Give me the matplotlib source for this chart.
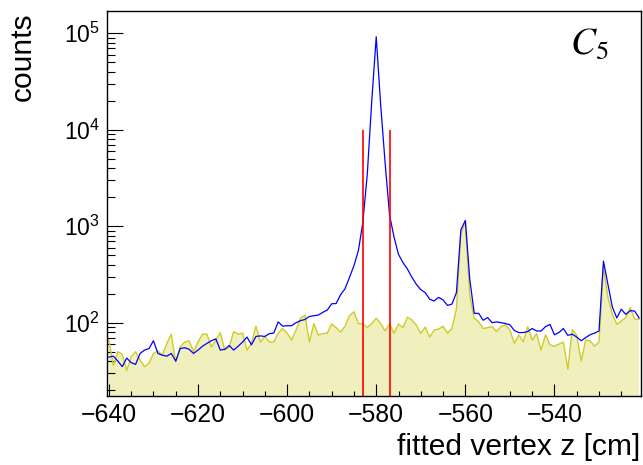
import numpy as np
import matplotlib
matplotlib.use("Agg")
import matplotlib.pyplot as plt
from matplotlib.ticker import MultipleLocator, LogLocator, NullFormatter, LogFormatterSciNotation

plt.rcParams['font.family'] = ['Liberation Sans', 'DejaVu Sans']
plt.rcParams['mathtext.fontset'] = 'custom'
plt.rcParams['mathtext.rm'] = 'Liberation Sans'
plt.rcParams['mathtext.it'] = 'Liberation Sans:italic'
plt.rcParams['mathtext.bf'] = 'Liberation Sans:bold'

# ---- data ----
first_bin_center = -640
n_bins = 120
z_centers = first_bin_center + np.arange(n_bins)   # 1 cm bins, -640 ... -521

counts_all = [
    44, 45, 40, 35, 43, 38.5, 37, 48, 52, 54,
    65, 48, 46, 45, 48, 40, 54, 55, 53, 48,
    52, 57, 61, 65, 68, 52, 53, 58, 52, 57,
    63, 71, 59, 72, 73, 72, 77, 78, 102, 92,
    93, 93, 100, 105, 108, 116, 118, 120, 128, 135,
    157, 158, 195, 225, 295, 390, 560, 1100, 3500, 20000,
    92000, 18000, 4500, 1300, 770, 510, 420, 360, 296, 250,
    220, 205, 175, 168, 183, 172, 151, 156, 205, 920,
    1150, 280, 125, 125, 106, 113, 100, 102, 100, 98,
    95, 83, 79, 79, 81, 87, 82, 82, 91, 96,
    75, 79, 87, 74, 76, 71, 65, 70, 75, 78,
    82, 435, 250, 145, 112, 138, 122, 133, 132, 112,
]

counts_sel = [
    66, 36, 50, 47, 32, 44.5, 50, 41, 35, 38,
    48, 51, 46, 61, 76, 39, 56, 63, 65, 50,
    63, 76, 76, 56, 66, 79, 52, 56, 81, 76,
    78, 52, 61, 92, 63, 72, 63, 63, 78, 87,
    78, 66, 84, 111, 120, 63, 98, 74.5, 77, 78,
    97, 89, 80, 92, 118, 130, 98, 97, 89, 98,
    111, 98, 82, 97, 77.6, 97, 89, 114, 107, 94,
    77.6, 90, 71, 84, 86, 92, 78, 87, 140, 850,
    1100, 190, 111, 102, 87, 89, 91, 81, 91, 95,
    84, 61, 74.5, 63.6, 91, 66, 77, 52, 75, 59,
    57, 60, 63, 33, 85, 74, 40, 66, 65, 57,
    63, 380, 184, 123, 96, 104, 113, 143, 109, 109,
]

cut_lines = [-583, -577]
cut_top = 1e4

x_range = (-640.5, -520.5)
y_range = (17.5, 1.715e5)

# ---- figure ----
fig = plt.figure(figsize=(6.43, 4.65), dpi=100)
ax = fig.add_axes([0.1659, 0.149, 0.8315, 0.828])
ax.set_yscale('log')
ax.set_xlim(*x_range)
ax.set_ylim(*y_range)

ax.fill_between(z_centers, y_range[0], counts_sel, facecolor='#f0f0bf',
                edgecolor='none', zorder=1)
ax.plot(z_centers, counts_sel, color='#cfcb2a', lw=1.0, zorder=2)
ax.plot(z_centers, counts_all, color='#0000ff', lw=0.9, zorder=3)
ax.vlines(cut_lines, y_range[0], cut_top, colors='#ff0000', lw=1.2, zorder=4)

# axes styling (ROOT-like)
for s in ax.spines.values():
    s.set_linewidth(1.0)
    s.set_color('black')
    s.set_zorder(5)

ax.xaxis.set_major_locator(MultipleLocator(20))
ax.xaxis.set_minor_locator(MultipleLocator(5))
ax.yaxis.set_major_locator(LogLocator(base=10, numticks=10))
ax.yaxis.set_minor_locator(LogLocator(base=10, subs=np.arange(2, 10), numticks=20))
ax.yaxis.set_major_formatter(LogFormatterSciNotation())
ax.yaxis.set_minor_formatter(NullFormatter())

ax.tick_params(axis='x', which='major', direction='in', length=8.4, width=0.8,
               labelsize=17.8, pad=5, top=False)
ax.tick_params(axis='x', which='minor', direction='in', length=3.8, width=0.8, top=False)
ax.tick_params(axis='y', which='major', direction='in', length=11.3, width=0.8,
               labelsize=16.5, pad=5.0, right=False)
ax.tick_params(axis='y', which='minor', direction='in', length=6.0, width=0.8, right=False)

fig.text(22.7 / 643, 1 - 12 / 465, 'counts', rotation=90, ha='center', va='top',
         fontsize=21.6)
fig.text(640 / 643, 1 - 455 / 465, 'fitted vertex z [cm]', ha='right', va='baseline',
         fontsize=21.6)

ax.text(0.8667, 0.8875, r'$C_5$', transform=ax.transAxes, ha='left', va='baseline',
        fontsize=27, math_fontfamily='stix', zorder=6)

fig.savefig('out.png', dpi=100)
